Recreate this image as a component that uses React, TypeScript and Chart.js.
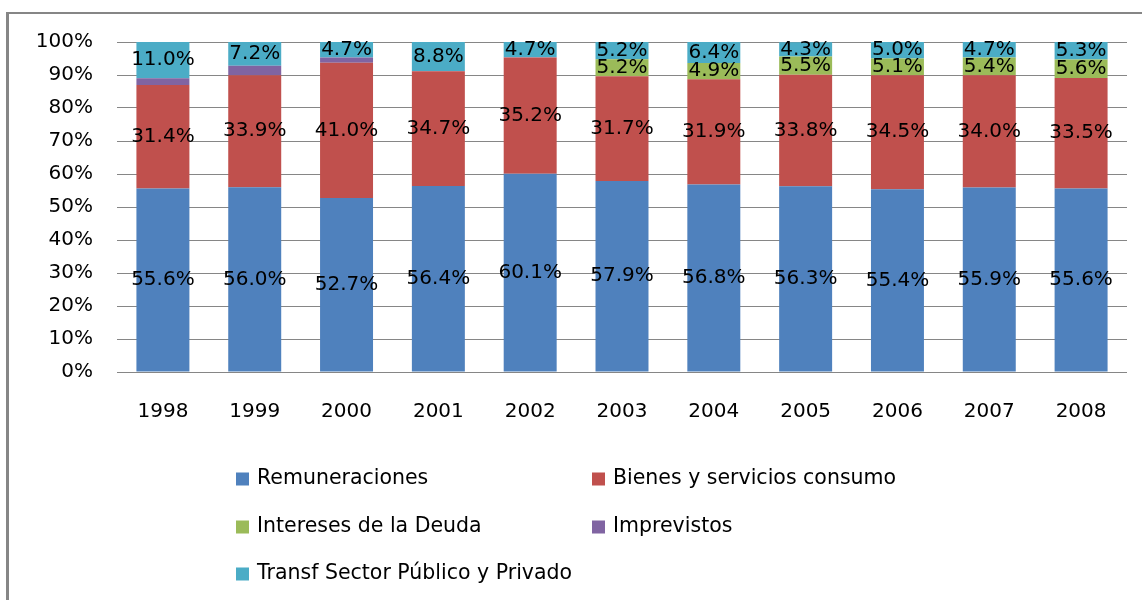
import React, { useEffect, useRef } from "react";
import { Chart, registerables } from "chart.js";

Chart.register(...registerables);

const years = ["1998", "1999", "2000", "2001", "2002", "2003", "2004", "2005", "2006", "2007", "2008"];
const remuneraciones = [55.6, 56.0, 52.7, 56.4, 60.1, 57.9, 56.8, 56.3, 55.4, 55.9, 55.6];
const bienes = [31.4, 33.9, 41.0, 34.7, 35.2, 31.7, 31.9, 33.8, 34.5, 34.0, 33.5];
const intereses = [0, 0, 0, 0, 0, 5.2, 4.9, 5.5, 5.1, 5.4, 5.6];
const imprevistos = [2.0, 2.9, 1.6, 0.1, 0.05, 0, 0, 0, 0, 0, 0];
const transf = [11.0, 7.2, 4.7, 8.8, 4.7, 5.2, 6.4, 4.3, 5.0, 4.7, 5.3];
const yTicks = [0, 10, 20, 30, 40, 50, 60, 70, 80, 90, 100];

const seriesNames = [
  "Remuneraciones",
  "Bienes y servicios consumo",
  "Intereses de la Deuda",
  "Imprevistos",
  "Transf Sector Público y Privado",
];
const seriesColors = ["#4F81BD", "#C0504D", "#9BBB59", "#8064A2", "#4BACC6"];
const labelledSeries = [true, true, true, false, true];

const FONT = "DejaVu Sans";

const dataLabelPlugin = {
  id: "dataLabels",
  afterDatasetsDraw(chart: any) {
    const ctx = chart.ctx;
    ctx.save();
    ctx.font = `20px "${FONT}"`;
    ctx.fillStyle = "#000";
    ctx.textAlign = "center";
    ctx.textBaseline = "middle";
    chart.data.datasets.forEach((ds: any, di: number) => {
      if (!labelledSeries[di]) return;
      const meta = chart.getDatasetMeta(di);
      meta.data.forEach((el: any, i: number) => {
        const v = ds.data[i];
        if (!v) return;
        const y = (el.y + el.base) / 2;
        ctx.fillText(v.toFixed(1) + "%", el.x, y);
      });
    });
    ctx.restore();
  },
};

const legendPlugin = {
  id: "gridLegend",
  afterDraw(chart: any) {
    const ctx = chart.ctx;
    const colX = [236, 592];
    const rowY = [479, 527, 574];
    ctx.save();
    ctx.font = `20.5px "${FONT}"`;
    ctx.textAlign = "left";
    ctx.textBaseline = "middle";
    chart.data.datasets.forEach((ds: any, i: number) => {
      const x = colX[i % 2];
      const y = rowY[Math.floor(i / 2)];
      ctx.fillStyle = ds.backgroundColor;
      ctx.fillRect(x, y - 6.5, 13, 13);
      ctx.fillStyle = "#000";
      ctx.fillText(ds.label, x + 21, y);
    });
    ctx.restore();
  },
};

export default function App() {
  const canvasRef = useRef<HTMLCanvasElement | null>(null);

  useEffect(() => {
    if (!canvasRef.current) return;
    const values = [remuneraciones, bienes, intereses, imprevistos, transf];
    const chart = new Chart(canvasRef.current, {
      type: "bar",
      data: {
        labels: years,
        datasets: values.map((d, i) => ({
          label: seriesNames[i],
          data: d,
          backgroundColor: seriesColors[i],
          borderWidth: 0,
          categoryPercentage: 1,
          barPercentage: 0.577,
        })),
      },
      options: {
        responsive: false,
        animation: false,
        devicePixelRatio: 1,
        layout: { padding: { left: 0, top: 42, right: 15, bottom: 0 } },
        plugins: {
          legend: { display: false },
          tooltip: { enabled: false },
        },
        scales: {
          x: {
            stacked: true,
            grid: { display: false, drawTicks: false },
            border: { display: false },
            ticks: {
              color: "#000",
              font: { family: FONT, size: 20 },
              padding: 28,
            },
            afterFit: (scale: any) => {
              scale.height = 228;
            },
          },
          y: {
            stacked: true,
            min: 0,
            max: 100,
            afterBuildTicks: (scale: any) => {
              scale.ticks = yTicks.map((v) => ({ value: v }));
            },
            grid: { color: "#868686", lineWidth: 1, drawTicks: false },
            border: { display: false },
            ticks: {
              color: "#000",
              font: { family: FONT, size: 20 },
              padding: 24,
              callback: (v: any) => v + "%",
            },
            afterFit: (scale: any) => {
              scale.width = 117;
            },
          },
        },
      },
      plugins: [dataLabelPlugin, legendPlugin],
    });
    return () => chart.destroy();
  }, []);

  return (
    <div style={{ position: "absolute", left: 0, top: 0, width: 1142, height: 600, background: "#fff", overflow: "hidden" }}>
      <div
        style={{
          position: "absolute",
          left: 6,
          top: 12,
          width: 1200,
          height: 700,
          borderLeft: "3px solid #868686",
          borderTop: "2px solid #868686",
          boxSizing: "border-box",
        }}
      />
      <canvas ref={canvasRef} width={1142} height={600} style={{ position: "absolute", left: 0, top: 0, display: "block" }} />
    </div>
  );
}
